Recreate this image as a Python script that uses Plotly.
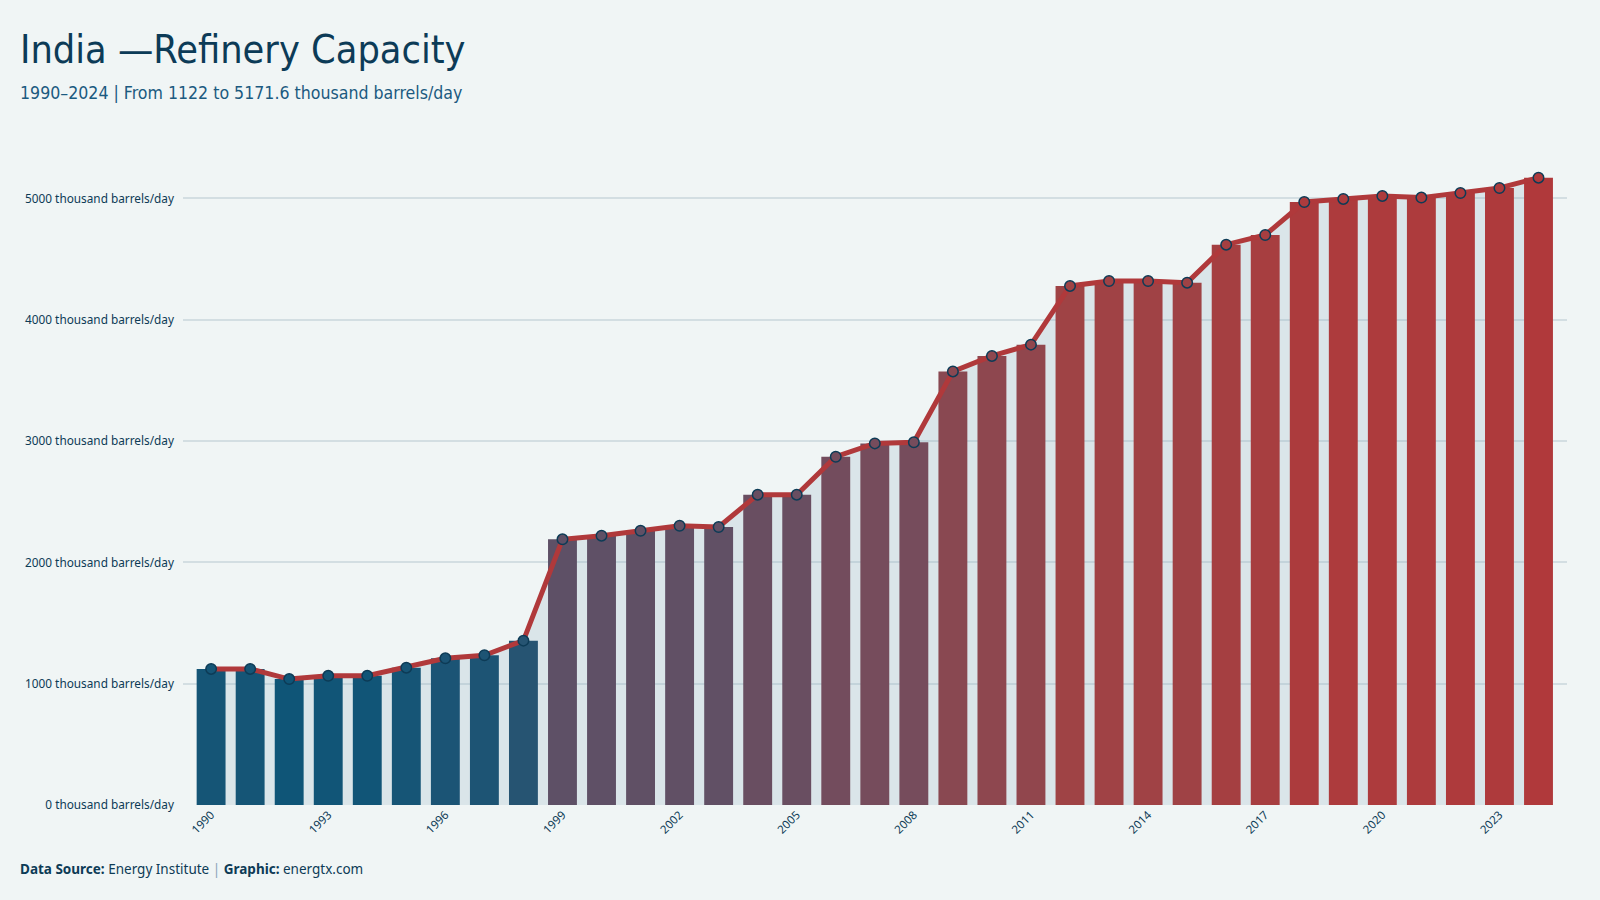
import plotly.graph_objects as go

years = list(range(1990, 2025))
capacity = [1122, 1122, 1038, 1065, 1065, 1132, 1209, 1234, 1355,
            2190, 2220, 2261, 2302, 2292, 2558, 2558, 2871, 2981, 2990,
            3574, 3702, 3795, 4279, 4320, 4320, 4306, 4619, 4699, 4971,
            4996, 5021, 5007, 5045, 5086, 5171.6]
tick_years = list(range(1990, 2024, 3))
y_ticks = [0, 1000, 2000, 3000, 4000, 5000]
y_ticktext = [f"{v} thousand barrels/day" for v in y_ticks]

title = "India —Refinery Capacity"
subtitle = "1990–2024 | From 1122 to 5171.6 thousand barrels/day"
footer = ("<b>Data Source:</b> Energy Institute <span style='color:#8aa5b8'>|</span> "
          "<b>Graphic:</b> energtx.com")

BG = "#f0f5f5"
NAVY = "#0d3b56"
colorscale = [[0, "#0f5577"], [0.25, "#5a5168"], [0.5, "#7a4b5a"],
              [0.75, "#9c4447"], [1, "#b0393b"]]
cmin, cmax = min(capacity), max(capacity)

XR = [1989.28, 2024.73]
YR = [0, 5317]
COND = "DejaVu Sans Condensed, sans-serif"

fig = go.Figure()
# area under line (base subplot, drawn beneath the bars)
fig.add_trace(go.Scatter(x=years, y=capacity, mode="lines", line=dict(width=0),
                         fill="tozeroy", fillcolor="rgba(120,160,185,0.18)",
                         hoverinfo="skip", showlegend=False, xaxis="x", yaxis="y"))
# bars (overlay subplot)
fig.add_trace(go.Bar(x=years, y=capacity, width=0.74,
                     marker=dict(color=capacity, colorscale=colorscale, cmin=cmin, cmax=cmax,
                                 line=dict(width=0)),
                     showlegend=False, xaxis="x2", yaxis="y2"))
# line with markers
fig.add_trace(go.Scatter(x=years, y=capacity, mode="lines+markers",
                         line=dict(color="#b0393b", width=5),
                         marker=dict(size=10.5, color=capacity, colorscale=colorscale,
                                     cmin=cmin, cmax=cmax,
                                     line=dict(color=NAVY, width=1.5)),
                         showlegend=False, xaxis="x2", yaxis="y2"))

fig.update_layout(
    width=1600, height=900,
    paper_bgcolor=BG, plot_bgcolor=BG,
    margin=dict(l=183, r=33, t=160, b=95),
    font=dict(family="Noto Sans, sans-serif", color=NAVY),
    xaxis=dict(range=XR, tickmode="array", tickvals=tick_years,
               ticktext=[str(y) for y in tick_years], tickangle=-45,
               tickfont=dict(size=11.5, color=NAVY), showgrid=False, zeroline=False,
               showline=False, ticks=""),
    yaxis=dict(range=YR, tickmode="array", tickvals=y_ticks, ticktext=y_ticktext,
               tickfont=dict(size=11.8, color=NAVY), showgrid=True, gridcolor="#d3dee2",
               gridwidth=1.5, zeroline=False, showline=False, ticks="",
               ticklabelstandoff=8),
    xaxis2=dict(range=XR, overlaying="x", visible=False),
    yaxis2=dict(range=YR, overlaying="y", visible=False),
    bargap=0.26,
    annotations=[
        dict(text=title, xref="paper", yref="paper", x=(18 - 183) / 1384,
             y=(805 - 50) / 645, xanchor="left", yanchor="middle", showarrow=False,
             font=dict(family=COND, size=39.3, color="#0c3b57")),
        dict(text=subtitle, xref="paper", yref="paper", x=(18 - 183) / 1384,
             y=(805 - 93) / 645, xanchor="left", yanchor="middle", showarrow=False,
             font=dict(family=COND, size=17.6, color="#1b5a80")),
        dict(text=footer, xref="paper", yref="paper", x=(18 - 183) / 1384,
             y=(805 - 869) / 645, xanchor="left", yanchor="middle", showarrow=False,
             font=dict(family="Noto Sans, sans-serif", size=13.5, color=NAVY)),
    ],
)

fig.write_html("out.html")
